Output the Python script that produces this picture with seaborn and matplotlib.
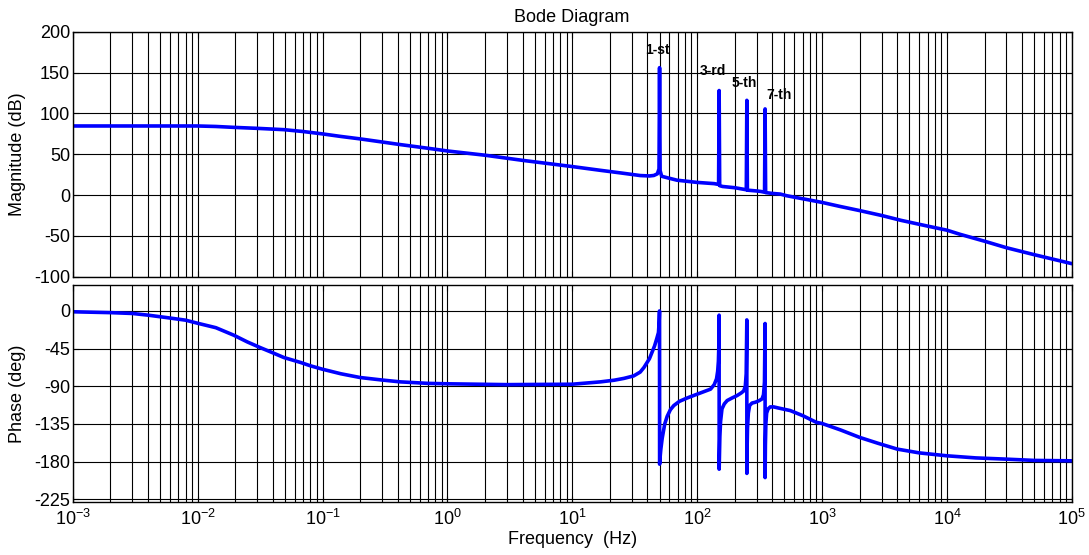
import numpy as np
import pandas as pd
import matplotlib
matplotlib.use("Agg")
import matplotlib.pyplot as plt
import seaborn as sns
from matplotlib.ticker import FixedLocator, LogLocator, NullFormatter

# magnitude curve (Hz, dB)
mag_freq = [0.001, 0.002, 0.005, 0.01, 0.014, 0.0195, 0.03, 0.049, 0.07, 0.1,
            0.14, 0.2, 0.3, 0.42, 0.7, 1, 2, 4, 10, 16.8, 25, 35, 41.5, 45, 48,
            49.5, 50, 50.5, 52, 57, 69, 100, 137, 148.5, 150, 151.5, 160, 200,
            218, 247.5, 250, 252.5, 300, 324, 346.5, 350, 353.5, 400, 464, 520,
            700, 1000, 1400, 2000, 3000, 4300, 7000, 10000, 12700, 20000, 30000,
            50000, 100000]
mag_db = [84.6, 84.6, 84.6, 84.6, 84.0, 82.9, 81.7, 80.1, 77.8, 74.9,
          71.8, 68.8, 65.0, 61.8, 57.3, 54.0, 48.8, 42.5, 34.9, 30.3, 26.9, 23.9, 23.4, 24.0, 26.0,
          32, 156, 30, 23, 21.4, 18.2, 15.5, 14.0, 13.0, 128, 11.5, 10.5, 9.0,
          8.0, 6.5, 116, 6.0, 5.0, 4.4, 3.5, 105.5, 3.0, 2.0, 1.2, -0.8,
          -4.5, -9, -14, -19, -25, -31, -38, -43, -48, -56.5, -64.5,
          -73, -84]

# phase curve (Hz, deg)
phase_freq = [0.001, 0.002, 0.003, 0.004, 0.0057, 0.008, 0.01, 0.014, 0.0195,
              0.025, 0.032, 0.04, 0.049, 0.067, 0.08, 0.1, 0.14, 0.2, 0.3, 0.42,
              0.7, 1, 3, 10, 16.8, 21.7, 26, 31, 35, 37.5, 41.5, 45.6, 47.5, 49,
              49.6, 49.95,
              50.05, 50.3, 50.7, 51.2, 52.5, 55, 57.5, 61, 65, 72, 83, 100, 115,
              128, 137, 143, 146, 148, 149.3, 149.95,
              150.05, 151, 152, 154, 158, 165, 174, 190, 209, 225, 236, 243, 247,
              249.95,
              250.05, 251.5, 253, 257, 263, 275, 293, 315, 331, 340, 346, 349.95,
              350.05, 352, 355, 360, 370, 385, 410, 450, 557, 700, 900, 1000,
              1400, 2000, 2800, 4000, 6000, 10000, 17000, 30000, 50000, 100000]
phase_deg = [-1, -2, -3, -5, -8, -11, -14.7, -20, -29,
             -37, -44, -50, -55.6, -61.6, -65.5, -69.6, -75, -79.5, -82.5, -84.7,
             -86.5, -87, -88, -87.5, -84.7, -82.7, -80.5, -77.6, -73, -67.5, -57, -41.8, -33, -25.8,
             -14, 0,
             -183, -178, -172, -165, -152, -135, -126, -118, -113, -108, -104, -99.4, -96,
             -93.4, -88, -81, -72, -60, -40, -5,
             -189, -170, -150, -132, -117, -111, -107, -104, -101, -98, -95.5, -90, -75,
             -10.7,
             -194, -160, -140, -122, -113, -110, -109, -107, -105, -100, -85, -15,
             -199, -160, -135, -122, -117, -114.6, -114.6, -116, -119, -125, -133, -134.4,
             -142, -151, -158, -165, -169.5, -173, -175.5, -177, -178.5, -179]

harmonic_labels = ["1-st", "3-rd", "5-th", "7-th"]
label_freq = [47.9, 134, 239, 450]
label_db = [178, 152, 137, 122]

mag_ticks = [-100, -50, 0, 50, 100, 150, 200]
phase_ticks = [-225, -180, -135, -90, -45, 0]
decades = [1e-3, 1e-2, 1e-1, 1e0, 1e1, 1e2, 1e3, 1e4, 1e5]

sns.set_style("white")
plt.rcParams["font.family"] = ["Liberation Sans", "DejaVu Sans"]
plt.rcParams["axes.unicode_minus"] = False
plt.rcParams["mathtext.fontset"] = "custom"
plt.rcParams["mathtext.rm"] = "Liberation Sans"
plt.rcParams["text.color"] = "black"

fig = plt.figure(figsize=(10.89, 5.55), dpi=100)
ax1 = fig.add_axes([0.0668, 0.5014, 0.9174, 0.4414])
ax2 = fig.add_axes([0.0668, 0.0950, 0.9174, 0.3915], sharex=ax1)

mag_df = pd.DataFrame({"Frequency": mag_freq, "Magnitude": mag_db})
phase_df = pd.DataFrame({"Frequency": phase_freq, "Phase": phase_deg})

sns.lineplot(data=mag_df, x="Frequency", y="Magnitude", ax=ax1,
             color="#0000ff", lw=2.6, estimator=None, sort=False)
sns.lineplot(data=phase_df, x="Frequency", y="Phase", ax=ax2,
             color="#0000ff", lw=2.6, estimator=None, sort=False)

for ax in (ax1, ax2):
    ax.set_xscale("log")
    ax.set_xlim(1e-3, 1e5)
    ax.xaxis.set_major_locator(FixedLocator(decades))
    ax.xaxis.set_minor_locator(LogLocator(base=10, subs=np.arange(2, 10), numticks=100))
    ax.xaxis.set_minor_formatter(NullFormatter())
    ax.grid(True, which="both", axis="x", color="black", lw=0.8)
    ax.grid(True, which="major", axis="y", color="black", lw=0.8)
    ax.tick_params(which="both", direction="in", top=True, right=True,
                   bottom=True, left=True, colors="black", labelsize=13)
    ax.tick_params(which="major", length=4, width=0.8)
    ax.tick_params(which="minor", length=2, width=0.6)
    ax.tick_params(axis="y", pad=2)
    for s in ax.spines.values():
        s.set_color("black")
        s.set_linewidth(1.0)
    ax.set_xlabel("")
    ax.set_ylabel("")

ax1.set_ylim(-100, 200)
ax1.set_yticks(mag_ticks)
ax1.tick_params(axis="x", labelbottom=False)

ax2.set_ylim(-228.5, 31)
ax2.set_yticks(phase_ticks)
ax2.tick_params(axis="x", pad=5)

for lab, f, d in zip(harmonic_labels, label_freq, label_db):
    ax1.text(f, d, lab, ha="center", va="center", fontsize=10, fontweight="bold")

fig.text(0.5254, 0.969, "Bode Diagram", ha="center", va="center", fontsize=13)
fig.text(0.5254, 1 - 540 / 555, "Frequency  (Hz)", ha="center", va="center", fontsize=13)
fig.text(18 / 1089, 1 - 154 / 555, "Magnitude (dB)", ha="center", va="center",
         rotation=90, fontsize=13)
fig.text(18 / 1089, 1 - 394 / 555, "Phase (deg)", ha="center", va="center",
         rotation=90, fontsize=13)

fig.savefig("out.png", dpi=100)
